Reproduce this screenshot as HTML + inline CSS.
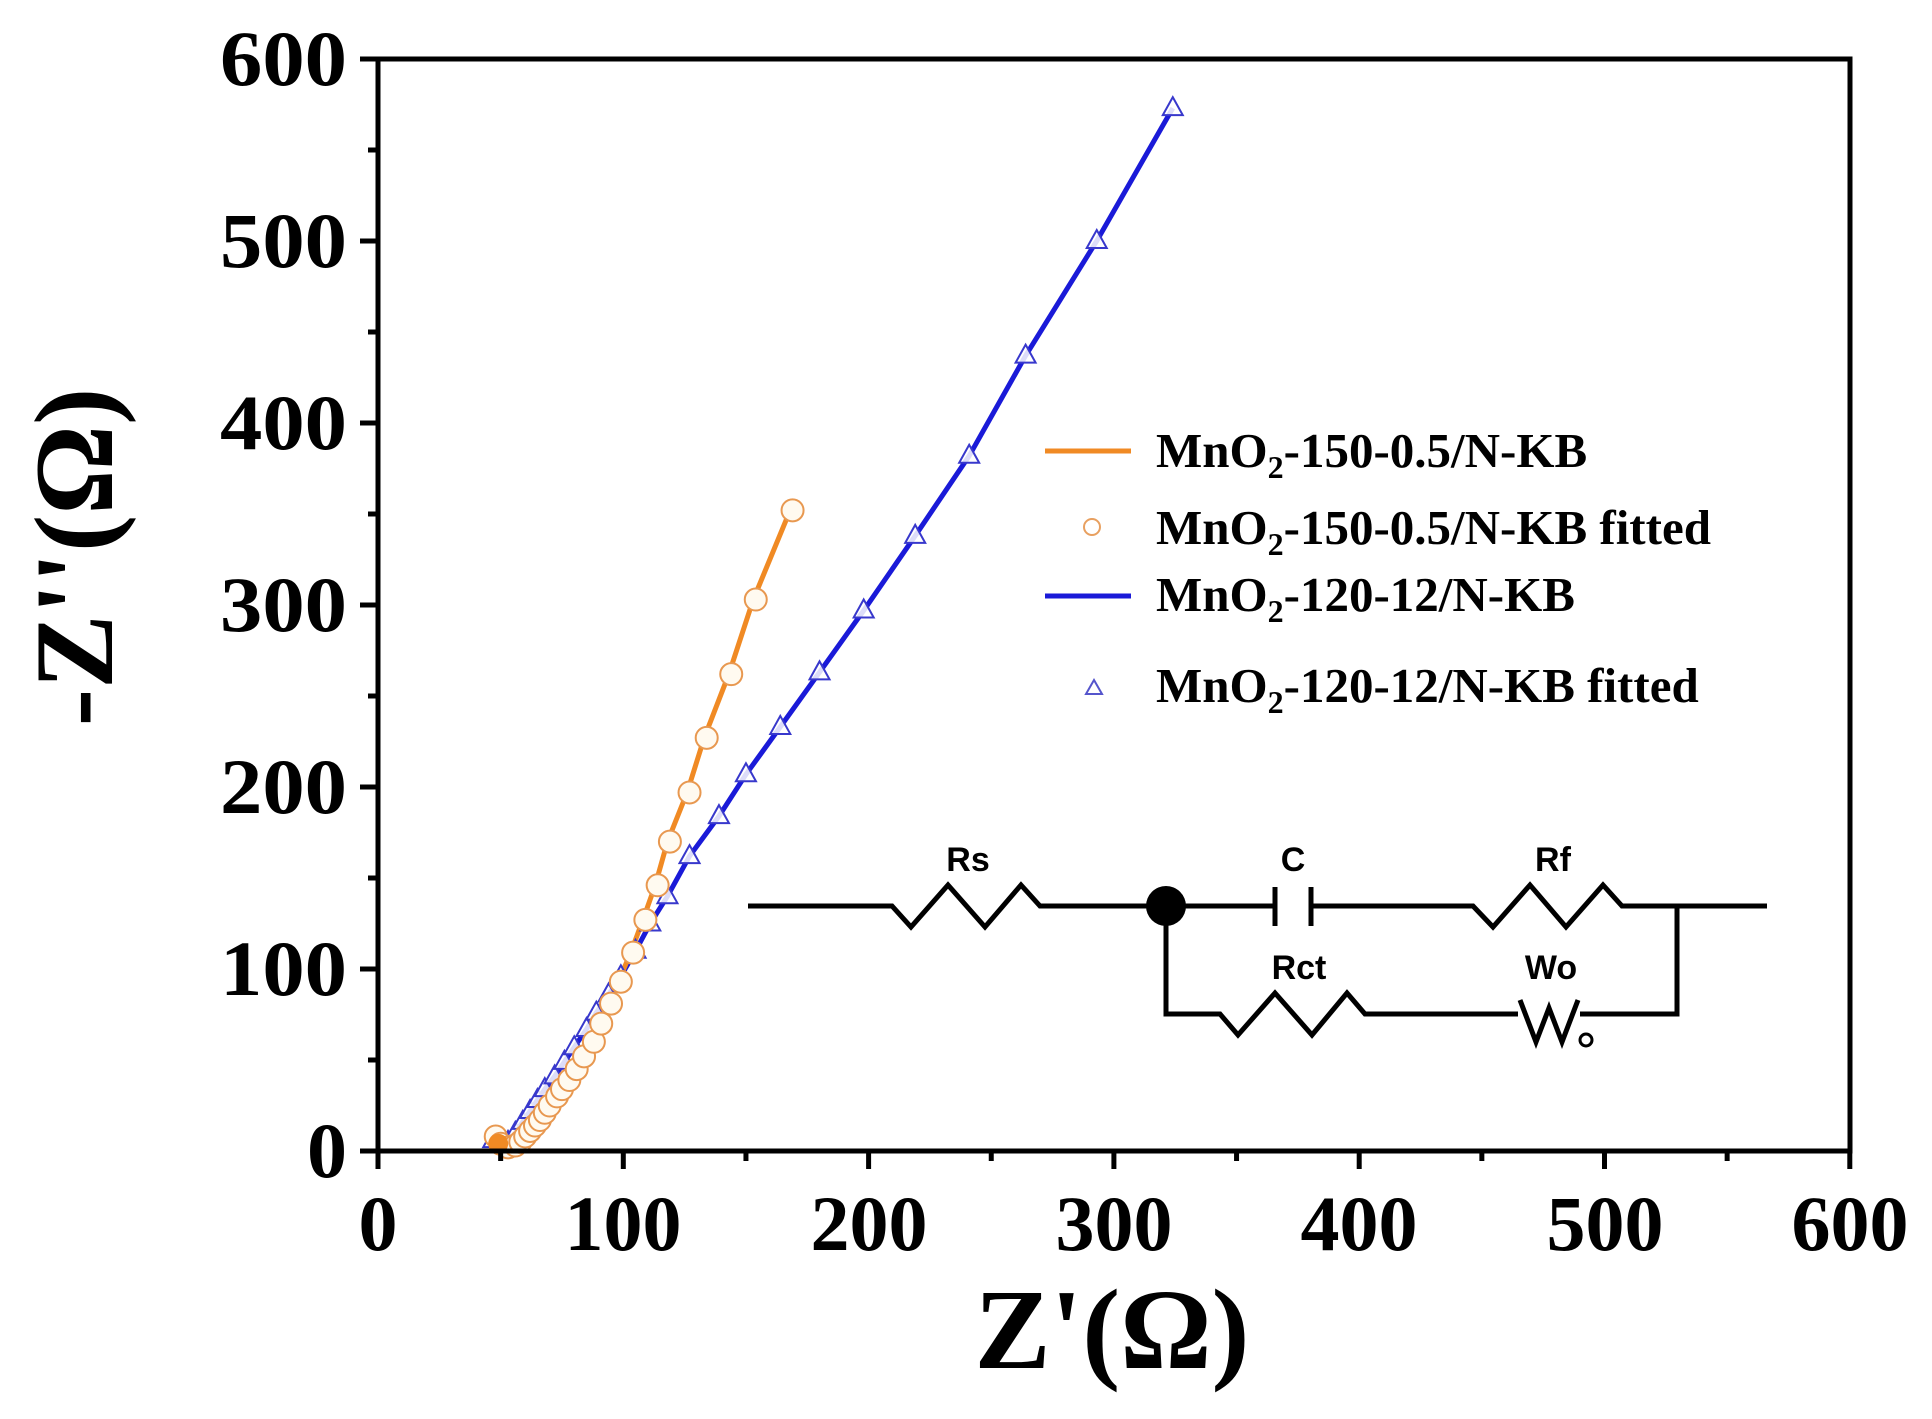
<!DOCTYPE html>
<html><head><meta charset="utf-8"><style>
html,body{margin:0;padding:0;background:#fff;}
svg{display:block;}
.tk{font-family:"Liberation Serif",serif;font-weight:bold;font-size:78px;}
.lg{font-family:"Liberation Serif",serif;font-weight:bold;font-size:49px;}
.cl{font-family:"Liberation Sans",sans-serif;font-weight:bold;font-size:34px;}
</style></head><body>
<svg id="s" width="1932" height="1419" viewBox="0 0 1932 1419" xmlns="http://www.w3.org/2000/svg">
<g id="data"></g>
<rect x="378" y="59" width="1472" height="1092" fill="none" stroke="#000" stroke-width="5"/>
<g id="ticks" stroke="#000" stroke-width="5"></g>
<g class="tk" text-anchor="end">
<text x="347" y="1177" textLength="40" lengthAdjust="spacingAndGlyphs">0</text>
<text x="347" y="995" textLength="127" lengthAdjust="spacingAndGlyphs">100</text>
<text x="347" y="813" textLength="127" lengthAdjust="spacingAndGlyphs">200</text>
<text x="347" y="631" textLength="127" lengthAdjust="spacingAndGlyphs">300</text>
<text x="347" y="449" textLength="127" lengthAdjust="spacingAndGlyphs">400</text>
<text x="347" y="267" textLength="127" lengthAdjust="spacingAndGlyphs">500</text>
<text x="347" y="85" textLength="127" lengthAdjust="spacingAndGlyphs">600</text>
</g>
<g class="tk" text-anchor="middle">
<text x="378" y="1250">0</text>
<text x="623" y="1250">100</text>
<text x="869" y="1250">200</text>
<text x="1114" y="1250">300</text>
<text x="1359" y="1250">400</text>
<text x="1605" y="1250">500</text>
<text x="1850" y="1250">600</text>
</g>
<text x="1112" y="1368" text-anchor="middle" font-family="Liberation Serif,serif" font-weight="bold" font-size="114">Z'(Ω)</text>
<text transform="translate(112,557) rotate(-90)" text-anchor="middle" font-family="Liberation Serif,serif" font-weight="bold" font-size="112">-Z''(Ω)</text>
<line x1="1045" y1="451" x2="1131" y2="451" stroke="#f08a24" stroke-width="5"/>
<circle cx="1092" cy="527" r="8" fill="#fff" stroke="#e8a060" stroke-width="2"/>
<line x1="1045" y1="596" x2="1131" y2="596" stroke="#1a1ad8" stroke-width="5"/>
<polygon points="1094,680 1102,694 1086,694" fill="#fff" stroke="#5555cc" stroke-width="2"/>
<g class="lg">
<text x="1156" y="467">MnO<tspan font-size="32" dy="11">2</tspan><tspan dy="-11">-150-0.5/N-KB</tspan></text>
<text x="1156" y="544">MnO<tspan font-size="32" dy="11">2</tspan><tspan dy="-11">-150-0.5/N-KB fitted</tspan></text>
<text x="1156" y="611">MnO<tspan font-size="32" dy="11">2</tspan><tspan dy="-11">-120-12/N-KB</tspan></text>
<text x="1156" y="702">MnO<tspan font-size="32" dy="11">2</tspan><tspan dy="-11">-120-12/N-KB fitted</tspan></text>
</g>
<g fill="none" stroke="#000" stroke-width="5" stroke-linejoin="miter">
<polyline points="748,906 892,906 911,927 948,885 985,927 1021,885 1040,906 1275,906"/>
<line x1="1275" y1="887" x2="1275" y2="926"/>
<line x1="1311" y1="887" x2="1311" y2="926"/>
<polyline points="1311,906 1473,906 1493,927 1530,885 1566,927 1603,885 1622,906 1767,906"/>
<polyline points="1677,906 1677,1014 1580,1014"/>
<polyline points="1166,906 1166,1014 1220,1014 1238,1035 1275,993 1312,1035 1347,993 1365,1014 1518,1014"/>
<polyline points="1520,1000 1536,1042 1549,1008 1562,1042 1578,1000" stroke-width="5"/>
<circle cx="1586" cy="1040" r="6" stroke-width="3"/>
</g>
<circle cx="1166" cy="906" r="20" fill="#000"/>
<g class="cl" text-anchor="middle">
<text x="968" y="871">Rs</text>
<text x="1293" y="871">C</text>
<text x="1553" y="871">Rf</text>
<text x="1299" y="979">Rct</text>
<text x="1551" y="979">Wo</text>
</g>
</svg>
<script>
(function(){
var NS="http://www.w3.org/2000/svg";
function X(v){return 378+v*2.453;}
function Y(v){return 1151-v*1.82;}
var t=document.getElementById('ticks');
function L(x1,y1,x2,y2){var l=document.createElementNS(NS,'line');l.setAttribute('x1',x1);l.setAttribute('y1',y1);l.setAttribute('x2',x2);l.setAttribute('y2',y2);t.appendChild(l);}
for(var i=0;i<=12;i++){var v=i*50;var maj=(i%2==0);
 L(X(v),1151,X(v),1151+(maj?18:10));
 L(378,Y(v),378-(maj?18:10),Y(v));}
var d=document.getElementById('data');
function poly(pts,col,w){var p=document.createElementNS(NS,'polyline');p.setAttribute('points',pts.map(function(q){return X(q[0]).toFixed(1)+','+Y(q[1]).toFixed(1)}).join(' '));p.setAttribute('fill','none');p.setAttribute('stroke',col);p.setAttribute('stroke-width',w);p.setAttribute('stroke-linejoin','round');d.appendChild(p);}
var orng=[[47,8],[49,4],[52,2],[55,3],[57,5],[59,8],[61,11],[63,14],[65,17],[67,21],[69,25],[72,30],[74,34],[77,39],[80,45],[83,52],[87,60],[90,70],[94,81],[98,93],[103,109],[108,127],[113,146],[118,170],[126,197],[133,227],[143,262],[153,303],[168,352]];
var blue=[[47,6],[50,3],[53,5],[56,10],[59,16],[62,22],[65,28],[68,34],[72,41],[76,49],[80,57],[85,67],[89,76],[94,86],[99,96],[105,110],[111,125],[118,140],[127,162],[139,184],[150,207],[164,233],[180,263],[198,297],[219,338],[241,382],[264,437],[293,500],[324,573]];
poly(blue,'#1a1ad8',5);
poly(orng,'#f08a24',5);
blue.forEach(function(q){var x=X(q[0]),y=Y(q[1]);var p=document.createElementNS(NS,'polygon');p.setAttribute('points',x+','+(y-11)+' '+(x+10)+','+(y+7)+' '+(x-10)+','+(y+7));p.setAttribute('fill','#fff');p.setAttribute('fill-opacity','0.85');p.setAttribute('stroke','#3838cc');p.setAttribute('stroke-width','2');d.appendChild(p);});
orng.forEach(function(q){var c=document.createElementNS(NS,'circle');c.setAttribute('cx',X(q[0]+1));c.setAttribute('cy',Y(q[1]));c.setAttribute('r',11);c.setAttribute('fill','#fffaf0');c.setAttribute('stroke','#e89850');c.setAttribute('stroke-width','2');d.appendChild(c);});
var cl=document.createElementNS(NS,'circle');cl.setAttribute('cx',X(49));cl.setAttribute('cy',Y(4));cl.setAttribute('r',10);cl.setAttribute('fill','#f08a24');d.appendChild(cl);
})();
</script>
</body></html>
